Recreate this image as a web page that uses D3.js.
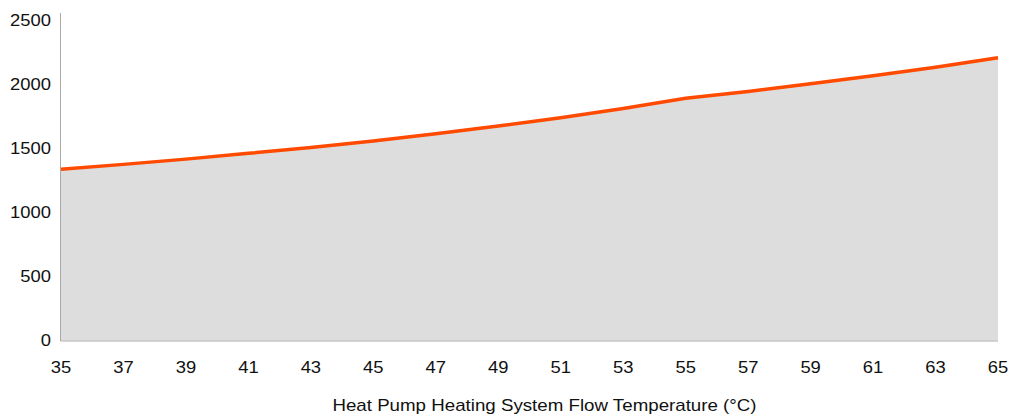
<!DOCTYPE html>
<html>
<head>
<meta charset="utf-8">
<script src="https://cdn.jsdelivr.net/npm/d3@7"></script>
<style>
  body { margin: 0; background: #fff; }
  text { font-family: "Liberation Sans", Arial, sans-serif; fill: #111; }
</style>
</head>
<body>
<svg id="chart"></svg>
<script>
var temps = [35, 37, 39, 41, 43, 45, 47, 49, 51, 53, 55, 57, 59, 61, 63, 65]
var values = [1337, 1376, 1417, 1462, 1508, 1558, 1615, 1675, 1740, 1812, 1893, 1945, 2005, 2068, 2134, 2209]
var xTicks = [35, 37, 39, 41, 43, 45, 47, 49, 51, 53, 55, 57, 59, 61, 63, 65]
var yTicks = [0, 500, 1000, 1500, 2000, 2500]
var xTitle = "Heat Pump Heating System Flow Temperature (°C)"

var width = 1013, height = 418

var svg = d3.select("#chart")
    .attr("width", width)
    .attr("height", height)

var x = d3.scaleLinear().domain([35, 65]).range([61, 998])
var y = d3.scaleLinear().domain([0, 2500]).range([340.5, 20.5])

var data = temps.map(function(t, i) { return {t: t, v: values[i]} })

svg.append("path")
    .datum(data)
    .attr("fill", "#dddddd")
    .attr("d", d3.area()
        .x(function(d) { return x(d.t) })
        .y0(y(0))
        .y1(function(d) { return y(d.v) }))

// axis lines
svg.append("line")
    .attr("x1", 60.5).attr("x2", 60.5)
    .attr("y1", 13).attr("y2", 341)
    .attr("stroke", "#aaaaaa")
svg.append("line")
    .attr("x1", 60.5).attr("x2", 998)
    .attr("y1", 341).attr("y2", 341)
    .attr("stroke", "#aaaaaa")

svg.append("path")
    .datum(data)
    .attr("fill", "none")
    .attr("stroke", "#ff4a00")
    .attr("stroke-width", 3.5)
    .attr("d", d3.line()
        .x(function(d) { return x(d.t) })
        .y(function(d) { return y(d.v) }))

// text in the reference is a bit wider than plain Liberation Sans
function stretched(sel, sx) {
    sel.attr("transform", function() {
        var t = d3.select(this)
        return "translate(" + t.attr("data-x") + "," + t.attr("data-y") + ") scale(" + sx + ",1)"
    })
}

svg.selectAll("text.ylab")
    .data(yTicks)
    .enter()
    .append("text")
    .attr("class", "ylab")
    .attr("data-x", 51)
    .attr("data-y", function(d) { return y(d) })
    .attr("dy", "0.35em")
    .attr("text-anchor", "end")
    .style("font-size", "16px")
    .text(function(d) { return d })
    .call(stretched, 1.15)

svg.selectAll("text.xlab")
    .data(xTicks)
    .enter()
    .append("text")
    .attr("class", "xlab")
    .attr("data-x", function(d) { return x(d) })
    .attr("data-y", 367)
    .attr("dy", "0.35em")
    .attr("text-anchor", "middle")
    .style("font-size", "16px")
    .text(function(d) { return d })
    .call(stretched, 1.15)

svg.append("text")
    .attr("data-x", 544.5)
    .attr("data-y", 405)
    .attr("dy", "0.35em")
    .attr("text-anchor", "middle")
    .style("font-size", "16px")
    .text(xTitle)
    .call(stretched, 1.17)
</script>
</body>
</html>
